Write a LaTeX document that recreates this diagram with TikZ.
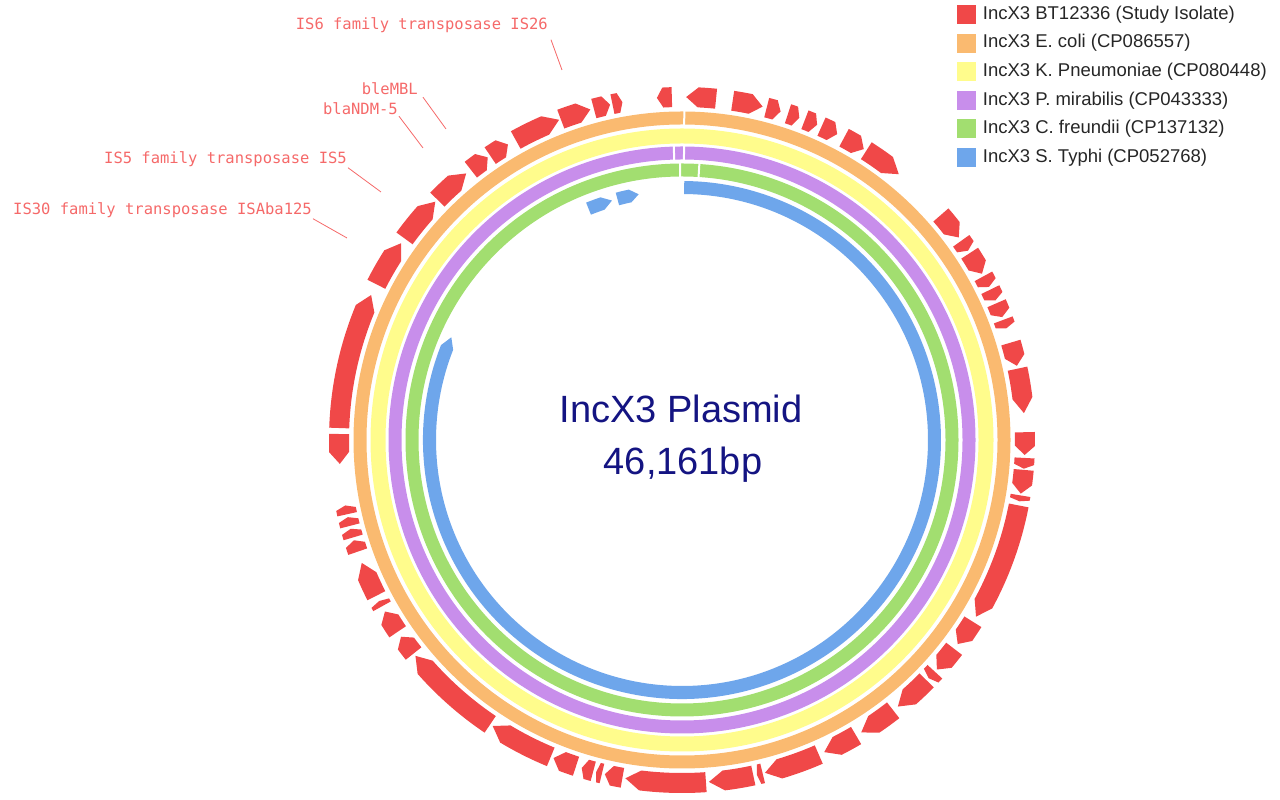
\documentclass[tikz,border=0pt]{standalone}
\usepackage{fontspec}
\setmainfont{Liberation Sans}
\setmonofont{DejaVu Sans Mono}
\usetikzlibrary{positioning}

\definecolor{genered}{RGB}{240,72,72}
\definecolor{labred}{RGB}{245,105,105}
\definecolor{ringorange}{RGB}{250,186,112}
\definecolor{ringyellow}{RGB}{255,252,140}
\definecolor{ringpurple}{RGB}{200,142,235}
\definecolor{ringgreen}{RGB}{162,222,112}
\definecolor{ringblue}{RGB}{110,166,235}
\definecolor{titleblue}{RGB}{20,20,130}

% arrow shaped feature: colour, inner radius, outer radius, tail angle, head angle
\newcommand\feat[5]{%
  \pgfmathsetmacro\fd{#5-(#4)}%
  \pgfmathsetmacro\fh{ifthenelse(abs(\fd)>6,2.5*sign(\fd),0.4*\fd)}%
  \pgfmathsetmacro\fb{#5-\fh}%
  \pgfmathsetmacro\fm{(#2+#3)/2}%
  \fill[#1] (#4:#2) arc[start angle=#4,end angle=\fb,radius=#2]
    -- (#5:\fm) -- (\fb:#3) arc[start angle=\fb,end angle=#4,radius=#3] -- cycle;}

\tikzset{
  ring/.style={line width=13pt},
  gap/.style={white,line width=2pt},
  tag/.style={font=\ttfamily\fontsize{15.5}{18}\selectfont,text=labred,inner sep=1pt},
  leader/.style={labred,line width=0.8pt},
  key/.style={minimum size=19pt,inner sep=0pt},
  keytext/.style={font=\fontsize{18.5}{21}\selectfont,text=black!85,inner sep=0pt,anchor=west}
}

\begin{document}
\begin{tikzpicture}[x=1pt,y=1pt]
\useasboundingbox (0,0) rectangle (1280,800);

% rings
\begin{scope}[shift={(682,360)}]
\draw[ring,ringorange] (0,0) circle (322);
\draw[ring,ringyellow,line width=15pt] (0,0) circle (304);
\draw[ring,ringpurple] (0,0) circle (287);
\draw[ring,ringgreen] (0,0) circle (270);
\draw[gap] (89.6:314) -- (89.6:330);
\draw[gap] (89.6:280) -- (89.6:294) (91.6:280) -- (91.6:294);
\draw[gap] (90.4:262) -- (90.4:278) (86.4:262) -- (86.4:278);

% blue hits
\feat{ringblue}{246}{259}{89.5}{-204}
\feat{ringblue}{243}{256}{112}{106.3}
\feat{ringblue}{243}{256}{105}{100}

% study isolate features
\foreach \t/\h in {110.7/105.5, 104.9/102.1, 101.7/100, 91.7/94.2, 84.3/89.3,
    81.5/76.4, 75.7/73.3, 72/70, 69/66.8, 66/63.1, 61.8/58, 57.5/50.8,
    41/36.2, 35.5/33.5, 33/29, 28.5/26.5, 26/24, 23.5/21, 20.5/19,
    16.5/12.5, 12/4.5, 1.3/-2.5, -3/-4.8, -5/-9, -9.3/-10.3, -11/-31,
    -32/-36.5, -37.5/-42, -42.5/-44, -44.5/-51, -52/-58.5, -59.5/-65.5,
    -66.5/-76, -76.4/-77.4, -78/-85.5, -86/-99.5, -100/-103, -103.5/-104.5,
    -105/-107, -108/-112, -112.5/-123.5, -124/-141, -141.5/-145,
    -146/-150, -151/-152, -153/-159, -161/-163, -163.5/-165,
    -165.5/-167, -167.5/-169, 179/184, 178/155, 153/145, 144/136,
    135.5/129, 128/124.5, 124/120.5, 119/111}
  \feat{genered}{333}{353}{\t}{\h};
\end{scope}

% title
\node[text=titleblue,font=\fontsize{38}{44}\selectfont] (title) at (681,391) {IncX3 Plasmid};
\node[text=titleblue,font=\fontsize{38}{44}\selectfont] (size) at (683,335) {46,161bp};

% gene labels
\node[tag,anchor=east] (is26) at (549,775) {IS6 family transposase IS26};
\node[tag,anchor=east] (ble) at (419,711) {bleMBL};
\node[tag,anchor=east] (ndm) at (399,691) {blaNDM-5};
\node[tag,anchor=east] (is5) at (348,641) {IS5 family transposase IS5};
\node[tag,anchor=east] (isaba) at (313,590) {IS30 family transposase ISAba125};
\coordinate (p26) at (562,730);
\coordinate (pble) at (446,671);
\coordinate (pndm) at (423,652);
\coordinate (p5) at (381,608);
\coordinate (paba) at (347,562);
\draw[leader] (is26.south east) ++(2,-6) -- (p26);
\draw[leader] (ble.south east) ++(4,-1) -- (pble);
\draw[leader] (ndm.south east) -- (pndm);
\draw[leader] (is5.south east) -- (p5);
\draw[leader] (isaba.south east) -- (paba);

% legend
\foreach \c/\txt [count=\i] in {genered/IncX3 BT12336 (Study Isolate),
    ringorange/IncX3 E. coli (CP086557),
    ringyellow/IncX3 K. Pneumoniae (CP080448),
    ringpurple/IncX3 P. mirabilis (CP043333),
    ringgreen/IncX3 C. freundii (CP137132),
    ringblue/IncX3 S. Typhi (CP052768)} {
  \node[key,fill=\c] (key\i) at (966,800-14.5-28.6*\i+28.6) {};
  \node[keytext,right=7pt of key\i] (keytxt\i) {\txt};
}
\end{tikzpicture}
\end{document}
